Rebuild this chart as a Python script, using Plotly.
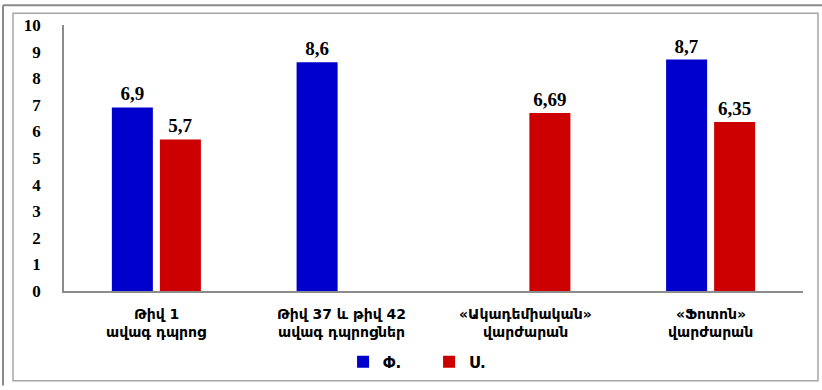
import plotly.graph_objects as go

# Categories (two lines each) and the two series
cat_line1 = ["Թիվ 1", "Թիվ 37 և թիվ 42", "«Ակադեմիական»", "«Ֆոտոն»"]
cat_line2 = ["ավագ դպրոց", "ավագ դպրոցներ", "վարժարան", "վարժարան"]
categories = [a + " " + b for a, b in zip(cat_line1, cat_line2)]
series_f = [6.9, 8.6, None, 8.7]
series_s = [5.7, None, 6.69, 6.35]
names = ["Փ.", "Ս."]
colors = ["#0000CC", "#CC0000"]
y_ticks = list(range(0, 11))

W, H = 822, 390
L, R, T, B = 64, 803, 25, 295  # plot area in pixels


def label(vals):
    return [("" if v is None else str(v).replace(".", ",")) for v in vals]


fig = go.Figure()
for vals, name, col in zip([series_f, series_s], names, colors):
    fig.add_trace(go.Bar(
        x=categories, y=vals, name=name,
        marker=dict(color=col, line=dict(width=0)),
        text=label(vals), textposition="outside",
        textfont=dict(family="Liberation Serif", size=19, color="#000", weight="bold"),
        cliponaxis=False,
    ))


def px_x(p):
    return (p - L) / (R - L)


def px_y(p):
    return (B - p) / (B - T)


shapes = [
    # outer frame lines
    dict(type="line", xref="paper", yref="paper", x0=px_x(3), x1=px_x(823), y0=px_y(5), y1=px_y(5),
         line=dict(color="#8a8a8a", width=2)),
    dict(type="line", xref="paper", yref="paper", x0=px_x(3), x1=px_x(3), y0=px_y(5), y1=px_y(391),
         line=dict(color="#8a8a8a", width=2)),
    # inner frame
    dict(type="rect", xref="paper", yref="paper", x0=px_x(13), x1=px_x(818), y0=px_y(13), y1=px_y(386),
         line=dict(color="#a6a6a6", width=1.5)),
]

# two-line category labels under the axis
cat_font = dict(family="DejaVu Sans", size=14, color="#000", weight="bold")
annotations = []
for cat, l1, l2 in zip(categories, cat_line1, cat_line2):
    for txt, py in ((l1, 318), (l2, 337)):
        annotations.append(dict(x=cat, xref="x", y=px_y(py), yref="paper", text=txt,
                                showarrow=False, xanchor="center", yanchor="middle", font=cat_font))

fig.update_layout(
    width=W, height=H,
    margin=dict(l=L, r=W - R, t=T, b=H - B, pad=0),
    paper_bgcolor="white", plot_bgcolor="white",
    barmode="group", bargap=0.48, bargroupgap=0.146,
    showlegend=True,
    legend=dict(orientation="h", x=0.494, xanchor="center", y=px_y(367), yanchor="middle",
                font=dict(family="DejaVu Sans", size=15, color="#000", weight="bold"),
                entrywidth=41, entrywidthmode="pixels", itemwidth=30),
    shapes=shapes,
    annotations=annotations,
    xaxis=dict(showline=True, linecolor="#8c8c8c", linewidth=2, ticks="", showgrid=False,
               showticklabels=False),
    yaxis=dict(range=[0, 10], tickvals=y_ticks, showline=True, linecolor="#8c8c8c", linewidth=1.5,
               ticks="", showgrid=False, zeroline=False,
               tickfont=dict(family="Liberation Serif", size=17, color="#000", weight="bold"),
               ticklabelstandoff=18),
)

fig.write_html("out.html")
